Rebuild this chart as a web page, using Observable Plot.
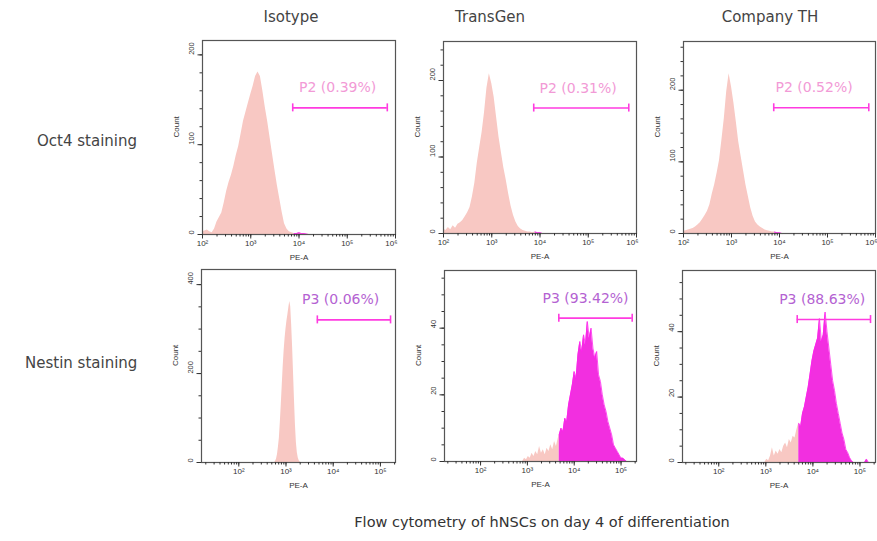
<!DOCTYPE html>
<html>
<head>
<meta charset="utf-8">
<script src="https://cdn.jsdelivr.net/npm/d3@7"></script>
<script src="https://cdn.jsdelivr.net/npm/@observablehq/plot@0.6"></script>
<style>
  html, body { margin: 0; padding: 0; background: #fff; }
  #root { position: relative; width: 877px; height: 541px; overflow: hidden; font-family: "DejaVu Sans", sans-serif; color: #444; }
  .lbl { position: absolute; white-space: nowrap; transform: translate(-50%, -50%); }
  .row { position: absolute; white-space: nowrap; transform: translate(0, -50%); }
  .pan { position: absolute; }
</style>
</head>
<body>
<div id="root"></div>
<script>
// ---------- data ----------
const columns = ["Isotype", "TransGen", "Company TH"];
const rowLabels = ["Oct4 staining", "Nestin staining"];
const caption = "Flow cytometry of hNSCs on day 4 of differentiation";
const xAxisTitle = "PE-A";
const yAxisTitle = "Count";
const decadeLabels = {2: "10²", 3: "10³", 4: "10⁴", 5: "10⁵", 6: "10⁶"};

// histograms: [log10(PE-A), count]
const oct4Isotype = [[2.00,3],[2.05,4],[2.10,5],[2.15,3],[2.20,2],[2.25,6],[2.30,14],[2.35,19],[2.40,24],[2.45,35],[2.50,48],[2.55,58],[2.60,66],[2.65,76],[2.70,88],[2.75,98],[2.80,112],[2.85,126],[2.90,136],[2.95,146],[3.00,156],[3.05,165],[3.10,176],[3.15,181],[3.20,176],[3.25,160],[3.30,142],[3.35,126],[3.40,108],[3.45,90],[3.50,72],[3.55,55],[3.60,40],[3.65,25],[3.70,12],[3.75,6],[3.80,3],[3.85,2],[3.90,1],[3.95,1],[4.00,2],[4.05,1],[4.10,1],[4.15,0.5],[4.20,0]];
const oct4TransGen = [[2.00,6],[2.05,4],[2.10,8],[2.15,5],[2.20,10],[2.25,7],[2.30,12],[2.35,14],[2.40,17],[2.45,22],[2.50,27],[2.55,34],[2.60,48],[2.65,66],[2.70,92],[2.75,112],[2.80,132],[2.85,158],[2.90,190],[2.95,209],[3.00,196],[3.05,178],[3.10,152],[3.15,126],[3.20,106],[3.25,86],[3.30,70],[3.35,52],[3.40,36],[3.45,24],[3.50,15],[3.55,9],[3.60,6],[3.65,4],[3.70,3],[3.75,2],[3.80,2],[3.85,1],[3.90,2],[3.95,1],[4.00,1],[4.05,0]];
const oct4CompanyTH = [[2.00,3],[2.05,4],[2.10,5],[2.15,6],[2.20,7],[2.25,9],[2.30,12],[2.35,15],[2.40,20],[2.45,25],[2.50,31],[2.55,40],[2.60,55],[2.65,68],[2.70,84],[2.75,102],[2.80,130],[2.85,160],[2.90,198],[2.95,223],[3.00,205],[3.05,182],[3.10,156],[3.15,128],[3.20,108],[3.25,88],[3.30,68],[3.35,52],[3.40,36],[3.45,24],[3.50,16],[3.55,12],[3.60,9],[3.65,7],[3.70,5],[3.75,4],[3.80,3],[3.85,2],[3.90,2],[3.95,1],[4.00,1],[4.05,0]];
const nestinIsotype = [[2.76,0],[2.78,3],[2.80,8],[2.82,18],[2.84,35],[2.86,55],[2.88,90],[2.90,130],[2.92,172],[2.94,215],[2.96,250],[2.98,278],[3.00,300],[3.02,318],[3.04,332],[3.06,348],[3.08,362],[3.10,350],[3.12,310],[3.14,260],[3.16,200],[3.18,140],[3.20,85],[3.22,45],[3.24,22],[3.26,10],[3.28,4],[3.30,1],[3.32,0]];
const nestinTransGen = [[2.90,0],[2.94,1],[2.98,0.5],[3.02,1.5],[3.06,1],[3.10,2.5],[3.14,1.5],[3.18,3],[3.22,2],[3.26,4.5],[3.30,2.5],[3.34,3.5],[3.38,2],[3.42,4],[3.46,3],[3.50,5],[3.54,3.5],[3.58,6],[3.62,4.5],[3.66,7],[3.68,8],[3.72,10],[3.76,9],[3.80,13],[3.84,12],[3.88,17],[3.92,20],[3.96,23],[4.00,27],[4.04,25],[4.08,32],[4.12,36],[4.16,33],[4.20,38],[4.24,35],[4.28,42],[4.32,37],[4.36,40],[4.40,34],[4.44,31],[4.48,33],[4.52,26],[4.56,24],[4.60,20],[4.64,17],[4.68,15],[4.72,12],[4.76,10],[4.80,8],[4.84,5],[4.88,4],[4.92,3],[4.96,2],[5.00,1],[5.04,1],[5.08,0.5],[5.12,0]];
const nestinCompanyTH = [[2.98,0],[3.02,1],[3.06,0.5],[3.10,2],[3.14,4.5],[3.18,2],[3.22,3.5],[3.26,2.5],[3.30,4],[3.34,3],[3.38,5],[3.42,6],[3.46,4.5],[3.50,7],[3.54,6],[3.58,8],[3.62,7.5],[3.66,10],[3.70,12],[3.74,11],[3.78,15],[3.82,17],[3.86,20],[3.90,23],[3.94,27],[3.98,31],[4.02,34],[4.06,36],[4.10,38],[4.14,44],[4.18,37],[4.22,39],[4.26,46],[4.30,40],[4.34,35],[4.38,30],[4.42,25],[4.46,22],[4.50,18],[4.54,15],[4.58,12],[4.62,9],[4.66,7],[4.70,4],[4.74,3],[4.78,1.5],[4.82,0.5],[4.86,0],[5.10,0],[5.14,1],[5.18,0]];

// gates
const gateNames  = ["P2 (0.39%)", "P2 (0.31%)", "P2 (0.52%)", "P3 (0.06%)", "P3 (93.42%)", "P3 (88.63%)"];
const gateStart  = [3.87, 3.87, 3.88, 3.664, 3.671, 3.667];   // log10
const gateEnd    = [5.83, 5.84, 5.86, 5.215, 5.238, 5.224];   // log10
const gateLevel  = [141, 164, 175.5, 320.7, 43, 43.7];       // count
const gateLabelX = [4.80, 4.79, 4.72, 4.157, 4.241, 4.198];   // log10

// axes
const yMax       = [216, 251, 268, 434, 57.3, 58.7];
const yMajor     = [[0,100,200],[0,100,200],[0,100,200],[0,200,400],[0,20,40],[0,20,40]];
const yMinorStep = [20, 20, 20, 50, 5, 5];
const xLogDomain = [[2,6],[2,6],[2,6],[1.21,5.32],[1.23,5.33],[1.23,5.33]];
const xDecades   = [[2,3,4,5,6],[2,3,4,5,6],[2,3,4,5,6],[2,3,4,5],[2,3,4,5],[2,3,4,5]];
const histograms = [oct4Isotype, oct4TransGen, oct4CompanyTH, nestinIsotype, nestinTransGen, nestinCompanyTH];

// ---------- layout ----------
const frames = [[202,40,395,234],[443,41,636,233],[683,41,875,233],[201,269,395,462],[444,270,636,461],[682,270,875,462]];
const labelColor = ["#f29ad6","#f29ad6","#f29ad6","#b462d2","#b462d2","#b462d2"];

const root = document.getElementById("root");

function addDiv(cls, text, x, y, css) {
  const d = document.createElement("div");
  d.className = cls; d.textContent = text;
  d.style.left = x + "px"; d.style.top = y + "px";
  Object.assign(d.style, css || {});
  root.appendChild(d);
}

const colCenters = [291, 490, 770];
columns.forEach((c, i) => addDiv("lbl", c, colCenters[i], 17, {fontSize: "15px", color: "#444"}));
addDiv("row", rowLabels[0], 37, 141, {fontSize: "15px", color: "#444"});
addDiv("row", rowLabels[1], 25, 363, {fontSize: "15px", color: "#444"});
addDiv("lbl", caption, 542, 522, {fontSize: "14.5px", color: "#333"});

function panel(i) {
  const [x0, y0, x1, y1] = frames[i];
  const ml = 36, mr = 10, mt = 6, mb = 32;
  const w = x1 - x0 + ml + mr, h = y1 - y0 + mt + mb;
  const data = histograms[i];
  const gs = gateStart[i];
  const firstIn = data.findIndex(d => d[0] >= gs);
  const pale = firstIn < 0 ? data : data.slice(0, firstIn + 1);
  const mag = firstIn < 0 ? [] : data.slice(firstIn);
  const pxPerUnit = (y1 - y0) / yMax[i];
  const cap = 4 / pxPerUnit;
  const lvl = gateLevel[i];
  const minor = d3.range(0, yMax[i], yMinorStep[i]);
  const X = d => 10 ** d[0], Y = d => d[1];
  const decs = xDecades[i].map(v => 10 ** v);
  const last = 10 ** xLogDomain[i][1];

  const svg = Plot.plot({
    width: w, height: h,
    marginLeft: ml, marginRight: mr, marginTop: mt, marginBottom: mb,
    x: {type: "log", domain: xLogDomain[i].map(v => 10 ** v), axis: null},
    y: {domain: [0, yMax[i]], axis: null},
    style: {background: "transparent", fontFamily: "'Liberation Sans', Arial, sans-serif", fontSize: "8px", color: "#333", overflow: "visible"},
    marks: [
      Plot.areaY(pale, {x: X, y: Y, fill: "#f8c8c3", curve: "linear"}),
      Plot.areaY(mag, {x: X, y: Y, fill: i >= 4 ? "#f22fe0" : "#f070d8", curve: "linear"}),
      Plot.lineY(mag, {x: X, y: Y, stroke: "#ff22ee", strokeWidth: 0.8, curve: "linear"}),
      Plot.frame({stroke: "#555", strokeWidth: 1.2}),
      Plot.axisX({ticks: 40, tickSize: 2.5, tickFormat: () => "", stroke: "#333"}),
      Plot.axisX({ticks: decs, tickSize: 4.5, tickFormat: () => "", stroke: "#333"}),
      Plot.text(decs.filter(d => d < last * 0.999), {x: d => d, frameAnchor: "bottom", dy: 11,
                  text: d => decadeLabels[Math.round(Math.log10(d))], fontSize: 8, fill: "#333"}),
      Plot.text(decs.filter(d => d >= last * 0.999), {x: d => d, frameAnchor: "bottom", dy: 11, textAnchor: "end", dx: 2,
                  text: d => decadeLabels[Math.round(Math.log10(d))], fontSize: 8, fill: "#333"}),
      Plot.axisY({ticks: minor, tickSize: 2.5, tickFormat: () => "", stroke: "#333"}),
      Plot.axisY({ticks: yMajor[i], tickSize: 4.5, tickFormat: () => "", stroke: "#333"}),
      Plot.text(yMajor[i], {y: d => d, text: d => String(d), frameAnchor: "left", dx: -11, rotate: -90, fontSize: 7.5, fill: "#333"}),
      Plot.text([yAxisTitle], {frameAnchor: "left", dx: -26, rotate: -90, fontSize: 8, fill: "#333"}),
      Plot.text([xAxisTitle], {frameAnchor: "bottom", dy: 25, fontSize: 8, fill: "#333"}),
      Plot.ruleY([lvl], {x1: 10 ** gs, x2: 10 ** gateEnd[i], stroke: "#ff3be0", strokeWidth: 1.6}),
      Plot.ruleX([gs, gateEnd[i]], {x: d => 10 ** d, y1: lvl - cap, y2: lvl + cap, stroke: "#ff3be0", strokeWidth: 1.6}),
      Plot.text([gateNames[i]], {x: 10 ** gateLabelX[i], y: lvl, dy: -20, fontSize: 14,
                  fontFamily: "'DejaVu Sans', sans-serif", fill: labelColor[i]})
    ]
  });
  svg.classList.add("pan");
  svg.style.left = (x0 - ml) + "px";
  svg.style.top = (y0 - mt) + "px";
  root.appendChild(svg);
}

for (let i = 0; i < 6; i++) panel(i);
</script>
</body>
</html>
